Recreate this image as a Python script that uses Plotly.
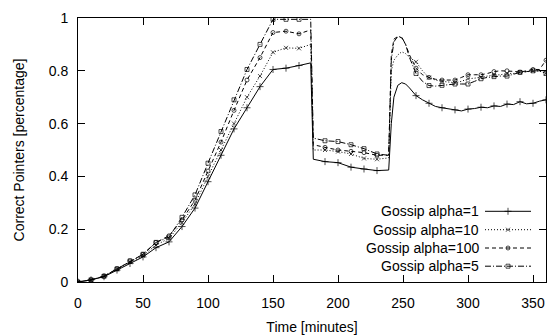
import plotly.graph_objects as go

# ---------------- data ----------------
minutes = [0, 10, 20, 30, 40, 50, 60, 70, 80, 90, 100, 110, 120, 130, 140, 150, 160, 170, 179,
           181, 190, 200, 210, 220, 230, 239, 241, 243, 246, 249, 252, 255, 260, 265, 270, 275,
           280, 285, 290, 295, 300, 305, 310, 315, 320, 325, 330, 335, 340, 345, 350, 355, 360]

alpha1 = [0, 0.008, 0.02, 0.045, 0.07, 0.095, 0.13, 0.152, 0.21, 0.28, 0.38, 0.48, 0.58, 0.66, 0.74,
          0.805, 0.81, 0.82, 0.83,
          0.465, 0.456, 0.452, 0.435, 0.428, 0.422, 0.424,
          0.60, 0.70, 0.745, 0.755, 0.75, 0.735, 0.706, 0.69, 0.677, 0.665,
          0.66, 0.655, 0.652, 0.648, 0.655, 0.657, 0.662, 0.66, 0.667, 0.665, 0.674, 0.672,
          0.683, 0.675, 0.677, 0.685, 0.69]

alpha10 = [0, 0.008, 0.022, 0.048, 0.075, 0.1, 0.14, 0.165, 0.225, 0.295, 0.40, 0.50, 0.60, 0.70, 0.78,
           0.87, 0.887, 0.885, 0.90,
           0.50, 0.50, 0.494, 0.485, 0.468, 0.465, 0.47,
           0.80, 0.84, 0.86, 0.872, 0.865, 0.85, 0.834, 0.80, 0.774, 0.765,
           0.76, 0.757, 0.755, 0.76, 0.77, 0.772, 0.775, 0.78, 0.784, 0.785, 0.79, 0.79,
           0.795, 0.797, 0.80, 0.80, 0.79]

alpha100 = [0, 0.008, 0.022, 0.05, 0.08, 0.105, 0.15, 0.175, 0.235, 0.31, 0.42, 0.53, 0.65, 0.765, 0.85,
            0.945, 0.95, 0.94, 0.955,
            0.52, 0.51, 0.50, 0.495, 0.49, 0.48, 0.48,
            0.86, 0.92, 0.93, 0.925, 0.90, 0.86, 0.81, 0.785, 0.775, 0.768,
            0.765, 0.765, 0.765, 0.775, 0.785, 0.785, 0.785, 0.79, 0.797, 0.80, 0.80, 0.798,
            0.795, 0.80, 0.805, 0.805, 0.84]

alpha5 = [0, 0.008, 0.022, 0.05, 0.08, 0.105, 0.15, 0.17, 0.245, 0.33, 0.45, 0.57, 0.69, 0.805, 0.90,
          0.995, 0.995, 0.995, 0.995,
          0.545, 0.535, 0.532, 0.52, 0.505, 0.485, 0.48,
          0.84, 0.91, 0.93, 0.928, 0.90, 0.85, 0.79, 0.76, 0.744, 0.742,
          0.745, 0.748, 0.75, 0.75, 0.75, 0.76, 0.77, 0.775, 0.778, 0.78, 0.78, 0.788,
          0.794, 0.797, 0.80, 0.80, 0.79]

series_names = ["Gossip alpha=1", "Gossip alpha=10", "Gossip alpha=100", "Gossip alpha=5"]
x_ticks = [0, 50, 100, 150, 200, 250, 300, 350]
y_ticks = [0, 0.2, 0.4, 0.6, 0.8, 1]

# ---------------- style ----------------
FONT = "Liberation Sans, Arial, Helvetica, sans-serif"
styles = [
    dict(dash="solid", symbol="cross-thin", size=5),
    dict(dash="1px,2px", symbol="x-thin", size=4),
    dict(dash="4px,3px", symbol="circle-open", size=4),
    dict(dash="6px,2px,1px,2px", symbol="square-open", size=4),
]
marker_sizes = lambda s: [s if m % 10 == 0 else 0 for m in minutes]

fig = go.Figure()
for name, ys, st in zip(series_names, [alpha1, alpha10, alpha100, alpha5], styles):
    fig.add_trace(go.Scatter(
        x=minutes, y=ys, mode="lines+markers", name=name, showlegend=False,
        line=dict(color="black", width=1, dash=st["dash"]),
        marker=dict(symbol=st["symbol"], size=marker_sizes(st["size"]), color="black",
                    line=dict(color="black", width=1)),
    ))

# manual legend (text on the left of the sample, gnuplot style)
W, H = 552, 336
ML, MR, MT, MB = 78, 6, 18, 54
pw, ph = W - ML - MR, H - MT - MB
def px_x(p):
    return (p - ML) / pw
def px_y(p):
    return (H - MB - p) / ph
row_px = [211.3, 229.7, 248.0, 266.2]
s0, s1 = px_x(485), px_x(531)
for name, st, rp in zip(series_names, styles, row_px):
    yy = px_y(rp)
    fig.add_trace(go.Scatter(
        x=[s0, (s0 + s1) / 2, s1], y=[yy, yy, yy], mode="lines+markers", showlegend=False,
        xaxis="x2", yaxis="y2", hoverinfo="skip",
        line=dict(color="black", width=1, dash=st["dash"]),
        marker=dict(symbol=st["symbol"], size=[0, st["size"], 0], color="black",
                    line=dict(color="black", width=1)),
    ))
    fig.add_annotation(x=px_x(481), y=yy, xref="paper", yref="paper", text=name,
                       showarrow=False, xanchor="right", yanchor="middle",
                       font=dict(family=FONT, size=14, color="black"))

axis_common = dict(showline=True, linecolor="black", linewidth=1, mirror="ticks",
                   ticks="inside", ticklen=7, tickwidth=1, tickcolor="black",
                   showgrid=False, zeroline=False, automargin=False,
                   tickfont=dict(family=FONT, size=14, color="black"))

fig.update_layout(
    width=W, height=H,
    margin=dict(l=ML, r=MR, t=MT, b=MB),
    paper_bgcolor="white", plot_bgcolor="white",
    font=dict(family=FONT, size=14, color="black"),
    xaxis=dict(range=[0, 360], tickvals=x_ticks, ticklabelstandoff=8,
               title=dict(text="Time [minutes]", font=dict(family=FONT, size=14), standoff=12),
               **axis_common),
    yaxis=dict(range=[0, 1], tickvals=y_ticks, ticklabelstandoff=6,
               title=dict(text="Correct Pointers [percentage]", font=dict(family=FONT, size=14), standoff=20),
               **axis_common),
    xaxis2=dict(range=[0, 1], overlaying="x", visible=False, anchor="y2"),
    yaxis2=dict(range=[0, 1], overlaying="y", visible=False, anchor="x2"),
    showlegend=False,
)

fig.write_html("out.html")
